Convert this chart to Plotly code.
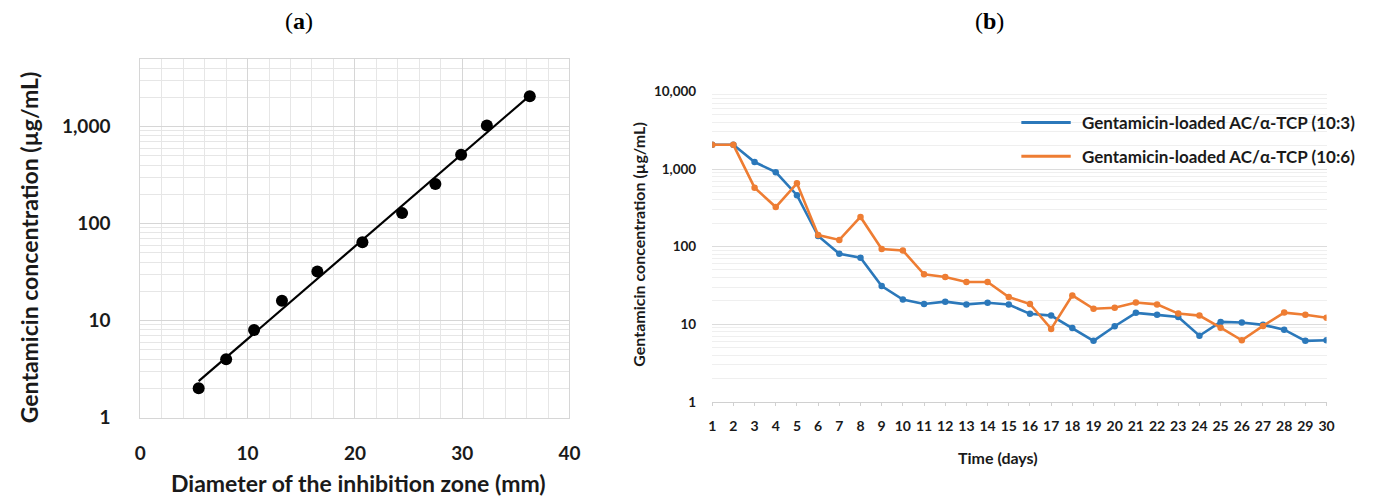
import numpy as np
import plotly.graph_objects as go

W, H = 1381, 501

# ---------------- data ----------------
# Panel (a): standard curve
diameter_mm = [5.44, 8.0, 10.6, 13.2, 16.5, 20.7, 24.4, 27.5, 29.9, 32.3, 36.3]
conc_std = [2, 4, 8, 16, 32, 64, 128, 256, 512, 1024, 2048]

# Panel (b): release profile
days = list(range(1, 31))
day_labels = [str(d) for d in days]
release_10_3 = [2050, 2050, 1230, 910, 460, 137, 81, 72, 31, 20.8, 18.2, 19.5, 18, 18.9, 17.9,
                13.6, 12.9, 8.9, 6.1, 9.4, 14, 13.2, 12.4, 7.1, 10.7, 10.5, 9.8, 8.5, 6.1, 6.2]
release_10_6 = [2050, 2050, 575, 323, 654, 141, 122, 241, 93, 89, 44, 40.5, 35, 35, 22.4,
                18.2, 8.7, 23.5, 15.8, 16.3, 19, 18, 13.7, 12.9, 9.0, 6.2, 9.5, 14.1, 13.2, 12.1]
series_names = ["Gentamicin-loaded AC/α-TCP (10:3)", "Gentamicin-loaded AC/α-TCP (10:6)"]
series_colors = ["#2B78BA", "#EE7D33"]

log_ticks = [1, 10, 100, 1000, 10000]
log_tick_text = ["1", "10", "100", "1,000", "10,000"]

# trendline (least squares on log10 scale)
slope, intercept = np.polyfit(diameter_mm, np.log10(conc_std), 1)
fit_x = [diameter_mm[0], diameter_mm[-1]]
fit_y = [10 ** (intercept + slope * x) for x in fit_x]

minor_log = [k * 10 ** d for d in range(0, 4) for k in range(2, 10)]

FONT = "Lato"
TXT = "#1a1a1a"

def px(x):
    return x / W

def py(y):
    return 1 - y / H

fig = go.Figure()

# Panel (a)
fig.add_trace(go.Scatter(x=fit_x, y=fit_y, mode="lines",
                         line=dict(color="black", width=2.2),
                         xaxis="x", yaxis="y", showlegend=False, hoverinfo="skip"))
fig.add_trace(go.Scatter(x=diameter_mm, y=conc_std, mode="markers",
                         marker=dict(color="black", size=12),
                         xaxis="x", yaxis="y", showlegend=False))

# Panel (b)
for vals, name, col in zip([release_10_3, release_10_6], series_names, series_colors):
    fig.add_trace(go.Scatter(x=days, y=vals, mode="lines+markers", name=name,
                             line=dict(color=col, width=2.6),
                             marker=dict(color=col, size=6.5),
                             xaxis="x2", yaxis="y2", showlegend=False))

fig.update_layout(
    width=W, height=H,
    margin=dict(l=0, r=0, t=0, b=0),
    paper_bgcolor="white", plot_bgcolor="white",
    font=dict(family=FONT, color=TXT),
    xaxis=dict(domain=[px(136), px(570.5)], range=[0, 40], dtick=10, anchor="y",
               showgrid=True, gridcolor="#d6d6d6", gridwidth=1.2, zeroline=False,
               minor=dict(dtick=2, showgrid=True, gridcolor="#e6e6e6", gridwidth=1),
               showline=True, mirror=True, linecolor="#d6d6d6", linewidth=1.2,
               ticks="", ticklabelstandoff=19,
               tickfont=dict(size=19, weight="bold", color=TXT)),
    yaxis=dict(domain=[py(425.7), py(52.7)], type="log", range=[0, np.log10(5000)], anchor="x",
               tickvals=log_ticks[:4], ticktext=log_tick_text[:4],
               showgrid=True, gridcolor="#d6d6d6", gridwidth=1.2, zeroline=False,
               minor=dict(tickvals=minor_log, showgrid=True, gridcolor="#e6e6e6", gridwidth=1),
               showline=True, mirror=True, linecolor="#d6d6d6", linewidth=1.2,
               ticks="", ticklabelstandoff=25,
               tickfont=dict(size=19, weight="bold", color=TXT)),
    xaxis2=dict(domain=[px(715), px(1337)], range=[1, 30], anchor="y2",
                tickvals=days, ticktext=day_labels,
                showgrid=False, zeroline=False,
                showline=True, linecolor="#d0d0d0", linewidth=1,
                ticks="outside", ticklen=3, tickcolor="#d0d0d0",
                ticklabelstandoff=8,
                tickfont=dict(size=14, weight="bold", color=TXT)),
    yaxis2=dict(domain=[py(409.3), py(86.7)], type="log", range=[0, 4], anchor="x2",
                tickvals=log_ticks, ticktext=log_tick_text,
                showgrid=True, gridcolor="#dcdcdc", gridwidth=1, zeroline=False,
                minor=dict(tickvals=minor_log + [k * 1000 for k in range(2, 10)],
                           showgrid=True, gridcolor="#efefef", gridwidth=1),
                showline=False, ticks="", ticklabelstandoff=15,
                tickfont=dict(size=13.5, weight="bold", color=TXT)),
)

annotations = [
    dict(text="(<b>a</b>)", x=px(297), y=py(14), font=dict(family="Liberation Serif", size=24, color="black")),
    dict(text="(<b>b</b>)", x=px(996), y=py(14), font=dict(family="Liberation Serif", size=24, color="black")),
    dict(text="Gentamicin concentration (µg/mL)", x=px(23), y=py(249), textangle=-90,
         font=dict(size=23, weight="bold", color=TXT)),
    dict(text="Diameter of the inhibition zone (mm)", x=px(357), y=py(494),
         font=dict(size=23, weight="bold", color=TXT)),
    dict(text="Gentamicin concentration (µg/mL)", x=px(641), y=py(246), textangle=-90,
         font=dict(size=16, weight="bold", color=TXT)),
    dict(text="Time (days)", x=px(1004), y=py(467),
         font=dict(size=16, weight="bold", color=TXT)),
]
legend_rows = [119, 154]
for name, col, yy in zip(series_names, series_colors, legend_rows):
    annotations.append(dict(text=name, x=px(1087), y=py(yy), xanchor="left",
                            font=dict(size=17, weight="bold", color=TXT)))
    fig.add_shape(type="line", xref="paper", yref="paper",
                  x0=px(1028), x1=px(1078), y0=py(yy), y1=py(yy),
                  line=dict(color=col, width=3))
for a in annotations:
    a.setdefault("xref", "paper")
    a.setdefault("yref", "paper")
    a.setdefault("showarrow", False)
    a.setdefault("xanchor", "center")
    a.setdefault("yanchor", "middle")
fig.update_layout(annotations=annotations)

fig.write_html("out.html")
